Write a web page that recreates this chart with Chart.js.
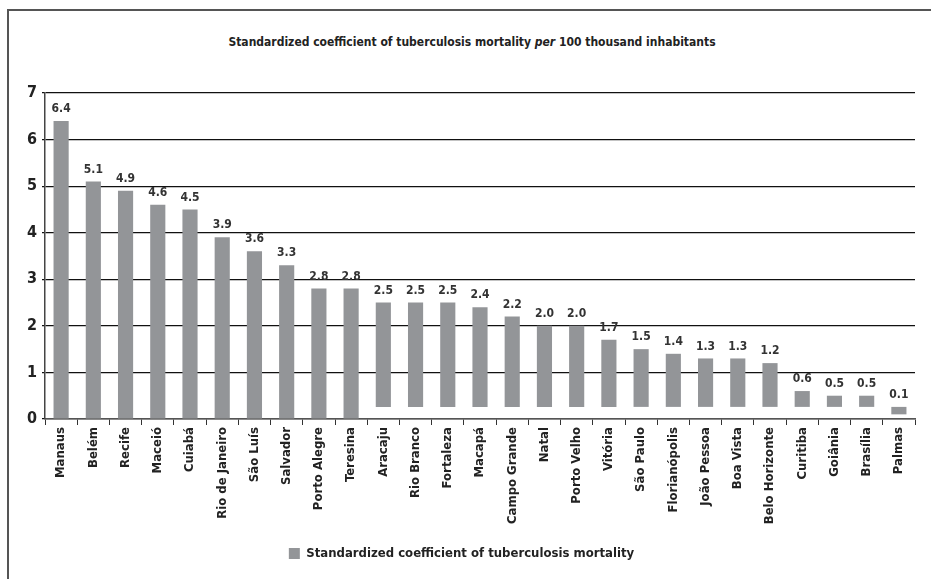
<!DOCTYPE html>
<html>
<head>
<meta charset="utf-8">
<script src="https://cdn.jsdelivr.net/npm/chart.js@4/dist/chart.umd.min.js"></script>
<style>
  body { margin: 0; background: #fff; }
  #wrap { position: relative; width: 931px; height: 579px; overflow: hidden; }
  #frame { position: absolute; left: 7px; top: 9px; width: 940px; height: 600px;
           border-left: 2px solid #555; border-top: 2px solid #555; }
  #title { position: absolute; left: 0; top: 35px; width: 944px; text-align: center;
           font: bold 12px "Liberation Sans Narrow", "DejaVu Sans Condensed", sans-serif; color: #222; }
  canvas { position: absolute; left: 0; top: 0; }
</style>
</head>
<body>
<div id="wrap">
  <div id="frame"></div>
  <div id="title">Standardized coefficient of tuberculosis mortality <i>per</i> 100 thousand inhabitants</div>
  <canvas id="tbChart" width="931" height="579"></canvas>
</div>
<script>
// chart data
const cities = ["Manaus", "Belém", "Recife", "Maceió", "Cuiabá", "Rio de Janeiro", "São Luís", "Salvador",
    "Porto Alegre", "Teresina", "Aracaju", "Rio Branco", "Fortaleza", "Macapá", "Campo Grande", "Natal",
    "Porto Velho", "Vitória", "São Paulo", "Florianópolis", "João Pessoa", "Boa Vista", "Belo Horizonte",
    "Curitiba", "Goiânia", "Brasília", "Palmas"];
const mortality = [6.4, 5.1, 4.9, 4.6, 4.5, 3.9, 3.6, 3.3, 2.8, 2.8, 2.5, 2.5, 2.5, 2.4, 2.2, 2.0,
    2.0, 1.7, 1.5, 1.4, 1.3, 1.3, 1.2, 0.6, 0.5, 0.5, 0.1];
// in the original figure the bars from Aracaju on start slightly above zero
const barBase = [0, 0, 0, 0, 0, 0, 0, 0, 0, 0, 0.26, 0.26, 0.26, 0.26, 0.26, 0.26,
    0.26, 0.26, 0.26, 0.26, 0.26, 0.26, 0.26, 0.26, 0.26, 0.26, 0.26];
const yTicks = [0, 1, 2, 3, 4, 5, 6, 7];
const seriesName = "Standardized coefficient of tuberculosis mortality";

const FONT = "'Liberation Sans Narrow', 'DejaVu Sans Condensed', sans-serif";

// value labels above the bars
const valueLabels = {
    id: "valueLabels",
    afterDatasetsDraw(chart) {
        const ctx = chart.ctx;
        const meta = chart.getDatasetMeta(0);
        ctx.save();
        ctx.font = "bold 12px " + FONT;
        ctx.fillStyle = "#333";
        ctx.textAlign = "center";
        ctx.textBaseline = "bottom";
        meta.data.forEach((bar, i) => {
            ctx.fillText(mortality[i].toFixed(1), bar.x, bar.y - 6);
        });
        ctx.restore();
    }
};

const ctx = document.getElementById("tbChart").getContext("2d");
const tbChart = new Chart(ctx, {
    type: "bar",
    data: {
        labels: cities,
        datasets: [{
            label: seriesName,
            data: mortality.map((v, i) => [barBase[i], v]),
            backgroundColor: "#939598",
            borderWidth: 0,
            barPercentage: 0.47,
            categoryPercentage: 1.0
        }]
    },
    options: {
        responsive: false,
        animation: false,
        layout: { padding: { left: 8, right: 16, top: 93, bottom: 9 } },
        plugins: {
            title: { display: false },
            tooltip: { enabled: false },
            legend: {
                display: true,
                position: "bottom",
                labels: {
                    font: { family: FONT, size: 13, weight: "bold" },
                    color: "#222",
                    boxWidth: 11,
                    boxHeight: 11,
                    padding: 10
                }
            }
        },
        scales: {
            x: {
                afterFit(scale) { scale.height = 118; },
                grid: {
                    offset: true,
                    drawOnChartArea: false,
                    drawTicks: true,
                    tickLength: 6,
                    color: "#333"
                },
                border: { display: true, color: "#555", width: 1.5 },
                ticks: {
                    autoSkip: false,
                    maxRotation: 90,
                    minRotation: 90,
                    padding: 2,
                    color: "#222",
                    font: { family: FONT, size: 13, weight: "bold" }
                }
            },
            y: {
                min: 0,
                max: 7,
                afterFit(scale) { scale.width = 37; },
                afterBuildTicks(scale) { scale.ticks = yTicks.map(v => ({ value: v })); },
                grid: {
                    color: "#111",
                    lineWidth: 1.2,
                    drawTicks: true,
                    tickLength: 3
                },
                border: { display: true, color: "#444", width: 1.5 },
                ticks: {
                    padding: 5,
                    color: "#222",
                    font: { family: FONT, size: 16, weight: "bold" }
                }
            }
        }
    },
    plugins: [valueLabels]
});
</script>
</body>
</html>
